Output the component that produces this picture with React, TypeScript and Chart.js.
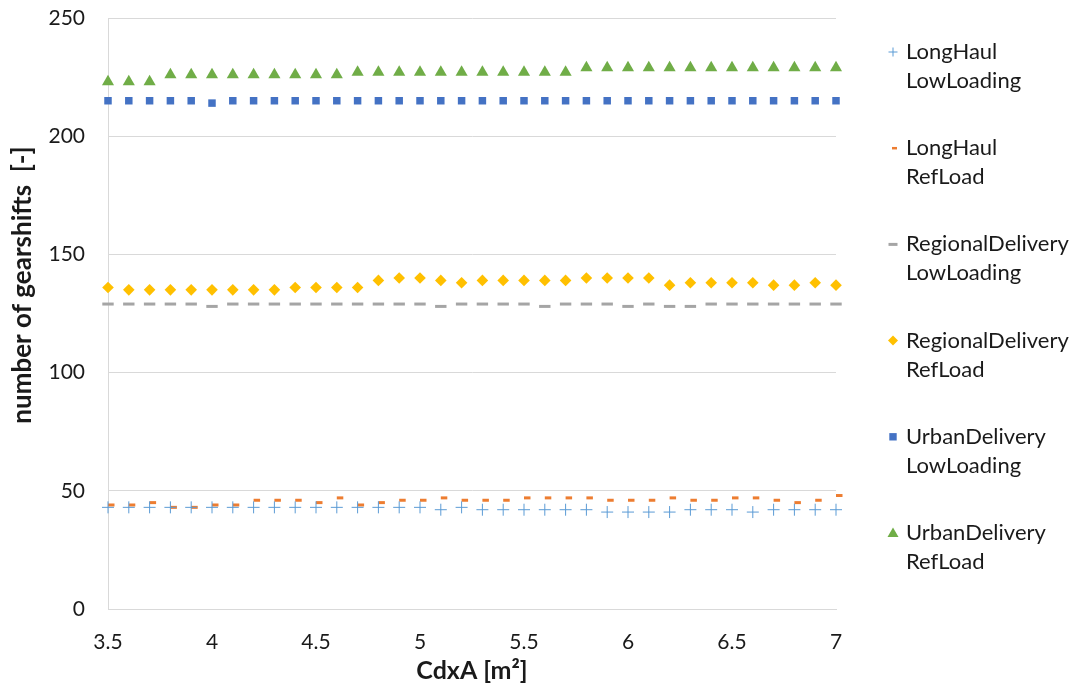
import { useEffect, useRef } from 'react';
import { Chart, registerables } from 'chart.js';

Chart.register(...registerables);

// Aerodynamic drag area CdxA [m²]
const cdxA = [
  3.5, 3.6, 3.7, 3.8, 3.9, 4.0, 4.1, 4.2, 4.3, 4.4, 4.5, 4.6,
  4.7, 4.8, 4.9, 5.0, 5.1, 5.2, 5.3, 5.4, 5.5, 5.6, 5.7, 5.8,
  5.9, 6.0, 6.1, 6.2, 6.3, 6.4, 6.5, 6.6, 6.7, 6.8, 6.9, 7.0,
];

// Number of gearshifts per cycle / loading
const longHaulLowLoading = [
  43, 43, 43, 43, 43, 43, 43, 43, 43, 43, 43, 43,
  43, 43, 43, 43, 42, 43, 42, 42, 42, 42, 42, 42,
  41, 41, 41, 41, 42, 42, 42, 41, 42, 42, 42, 42,
];
const longHaulRefLoad = [
  44, 44, 45, 43, 43, 44, 44, 46, 46, 46, 45, 47,
  44, 45, 46, 46, 47, 46, 46, 46, 47, 47, 47, 47,
  46, 46, 46, 47, 46, 46, 47, 47, 46, 45, 46, 48,
];
const regionalDeliveryLowLoading = [
  129, 129, 129, 129, 129, 128, 129, 129, 129, 129, 129, 129,
  129, 129, 129, 129, 128, 129, 129, 129, 129, 128, 129, 129,
  129, 128, 129, 128, 128, 129, 129, 129, 129, 129, 129, 129,
];
const regionalDeliveryRefLoad = [
  136, 135, 135, 135, 135, 135, 135, 135, 135, 136, 136, 136,
  136, 139, 140, 140, 139, 138, 139, 139, 139, 139, 139, 140,
  140, 140, 140, 137, 138, 138, 138, 138, 137, 137, 138, 137,
];
const urbanDeliveryLowLoading = [
  215, 215, 215, 215, 215, 214, 215, 215, 215, 215, 215, 215,
  215, 215, 215, 215, 215, 215, 215, 215, 215, 215, 215, 215,
  215, 215, 215, 215, 215, 215, 215, 215, 215, 215, 215, 215,
];
const urbanDeliveryRefLoad = [
  223, 223, 223, 226, 226, 226, 226, 226, 226, 226, 226, 226,
  227, 227, 227, 227, 227, 227, 227, 227, 227, 227, 227, 229,
  229, 229, 229, 229, 229, 229, 229, 229, 229, 229, 229, 229,
];

const seriesLabels = [
  ['LongHaul', 'LowLoading'],
  ['LongHaul', 'RefLoad'],
  ['RegionalDelivery', 'LowLoading'],
  ['RegionalDelivery', 'RefLoad'],
  ['UrbanDelivery', 'LowLoading'],
  ['UrbanDelivery', 'RefLoad'],
];

const xTitle = 'CdxA [m²]';
const yTitle = 'number of gearshifts  [-]';

const FONT = 'Lato, "Open Sans", sans-serif';
const TEXT_COLOR = '#1a1a1a';

type Marker = 'cross' | 'dashRight' | 'line' | 'rectRot' | 'rect' | 'triangle';

const seriesStyles: { color: string; marker: Marker; pointStyle: string; radius: number; borderWidth: number }[] = [
  { color: '#5B9BD5', marker: 'cross', pointStyle: 'cross', radius: 6, borderWidth: 1 },
  { color: '#ED7D31', marker: 'dashRight', pointStyle: 'dash', radius: 6.5, borderWidth: 3 },
  { color: '#A5A5A5', marker: 'line', pointStyle: 'line', radius: 5.7, borderWidth: 3 },
  { color: '#FFC000', marker: 'rectRot', pointStyle: 'rectRot', radius: 5.8, borderWidth: 0 },
  { color: '#4472C4', marker: 'rect', pointStyle: 'rect', radius: 5.3, borderWidth: 0 },
  { color: '#70AD47', marker: 'triangle', pointStyle: 'triangle', radius: 7, borderWidth: 0 },
];

function drawLegendMarker(ctx: CanvasRenderingContext2D, marker: Marker, x: number, y: number, color: string) {
  ctx.save();
  ctx.fillStyle = color;
  ctx.strokeStyle = color;
  ctx.beginPath();
  switch (marker) {
    case 'cross':
      ctx.lineWidth = 1;
      ctx.moveTo(x - 4.5, y);
      ctx.lineTo(x + 4.5, y);
      ctx.moveTo(x, y - 4.5);
      ctx.lineTo(x, y + 4.5);
      ctx.stroke();
      break;
    case 'dashRight':
      ctx.lineWidth = 2.5;
      ctx.moveTo(x - 1, y);
      ctx.lineTo(x + 4, y);
      ctx.stroke();
      break;
    case 'line':
      ctx.lineWidth = 3;
      ctx.moveTo(x - 4.5, y);
      ctx.lineTo(x + 4.5, y);
      ctx.stroke();
      break;
    case 'rectRot':
      ctx.moveTo(x, y - 5);
      ctx.lineTo(x + 5, y);
      ctx.lineTo(x, y + 5);
      ctx.lineTo(x - 5, y);
      ctx.closePath();
      ctx.fill();
      break;
    case 'rect':
      ctx.rect(x - 3.7, y - 3.7, 7.4, 7.4);
      ctx.fill();
      break;
    case 'triangle':
      ctx.moveTo(x, y - 5.5);
      ctx.lineTo(x + 5.5, y + 4);
      ctx.lineTo(x - 5.5, y + 4);
      ctx.closePath();
      ctx.fill();
      break;
  }
  ctx.restore();
}

const sideDecorations = {
  id: 'sideDecorations',
  afterDraw(chart: Chart) {
    const ctx = chart.ctx;

    // Vertical axis title
    ctx.save();
    ctx.translate(23, 285);
    ctx.rotate(-Math.PI / 2);
    ctx.font = `bold 26px ${FONT}`;
    ctx.fillStyle = TEXT_COLOR;
    ctx.textAlign = 'center';
    ctx.textBaseline = 'middle';
    ctx.fillText(yTitle, 0, 0);
    ctx.restore();

    // Legend on the right, two text lines per entry
    const markerX = 893;
    const textX = 906;
    const firstY = 52;
    const entryStep = 96.2;
    const lineStep = 29;
    ctx.save();
    ctx.font = `22px ${FONT}`;
    ctx.fillStyle = TEXT_COLOR;
    ctx.textAlign = 'left';
    ctx.textBaseline = 'middle';
    seriesLabels.forEach((lines, i) => {
      const y = firstY + i * entryStep;
      const st = seriesStyles[i];
      drawLegendMarker(ctx, st.marker, markerX, y, st.color);
      ctx.fillStyle = TEXT_COLOR;
      lines.forEach((line, j) => ctx.fillText(line, textX, y + j * lineStep));
    });
    ctx.restore();
  },
};

const whiteBackground = {
  id: 'whiteBackground',
  beforeDraw(chart: Chart) {
    const ctx = chart.ctx;
    ctx.save();
    ctx.fillStyle = '#ffffff';
    ctx.fillRect(0, 0, chart.width, chart.height);
    ctx.restore();
  },
};

export default function App() {
  const canvasRef = useRef<HTMLCanvasElement | null>(null);

  useEffect(() => {
    if (!canvasRef.current) return;
    const seriesValues = [
      longHaulLowLoading,
      longHaulRefLoad,
      regionalDeliveryLowLoading,
      regionalDeliveryRefLoad,
      urbanDeliveryLowLoading,
      urbanDeliveryRefLoad,
    ];
    const datasets = seriesValues.map((values, i) => {
      const st = seriesStyles[i];
      return {
        label: seriesLabels[i].join(' '),
        data: values.map((v, k) => ({ x: cdxA[k], y: v })),
        showLine: false,
        clip: false as const,
        pointStyle: st.pointStyle as any,
        pointRadius: st.radius,
        pointHoverRadius: st.radius,
        pointBorderWidth: st.borderWidth,
        pointBackgroundColor: st.color,
        pointBorderColor: st.color,
        borderColor: st.color,
        backgroundColor: st.color,
      };
    });

    const chart = new Chart(canvasRef.current, {
      type: 'scatter',
      data: { datasets },
      plugins: [whiteBackground, sideDecorations],
      options: {
        responsive: false,
        animation: false,
        layout: { padding: { top: 18, right: 238, bottom: 0, left: 0 } },
        plugins: {
          legend: { display: false },
          tooltip: { enabled: false },
        },
        scales: {
          x: {
            type: 'linear',
            min: 3.5,
            max: 7,
            afterFit: (scale: any) => {
              scale.height = 82;
              scale.paddingLeft = 0;
              scale.paddingRight = 0;
            },
            ticks: {
              stepSize: 0.5,
              padding: 21,
              color: TEXT_COLOR,
              font: { family: FONT, size: 21 },
              maxRotation: 0,
              callback: (v: any) => String(Math.round(Number(v) * 10) / 10),
            },
            grid: { display: false, drawTicks: false },
            border: { display: true, color: '#d9d9d9' },
            title: {
              display: true,
              text: xTitle,
              color: TEXT_COLOR,
              font: { family: FONT, size: 25, weight: 'bold' },
              padding: { top: 0, bottom: 5 },
            },
          },
          y: {
            min: 0,
            max: 250,
            afterFit: (scale: any) => {
              scale.width = 108;
              scale.paddingTop = 0;
              scale.paddingBottom = 0;
            },
            ticks: {
              stepSize: 50,
              padding: 23,
              color: TEXT_COLOR,
              font: { family: FONT, size: 21 },
            },
            grid: { color: '#d9d9d9', drawTicks: false },
            border: { display: true, color: '#d9d9d9' },
          },
        },
      },
    });
    return () => chart.destroy();
  }, []);

  return (
    <div style={{ position: 'absolute', left: 0, top: 0, width: 1074, height: 691, background: '#fff' }}>
      <canvas ref={canvasRef} width={1074} height={691} style={{ display: 'block' }} />
    </div>
  );
}
